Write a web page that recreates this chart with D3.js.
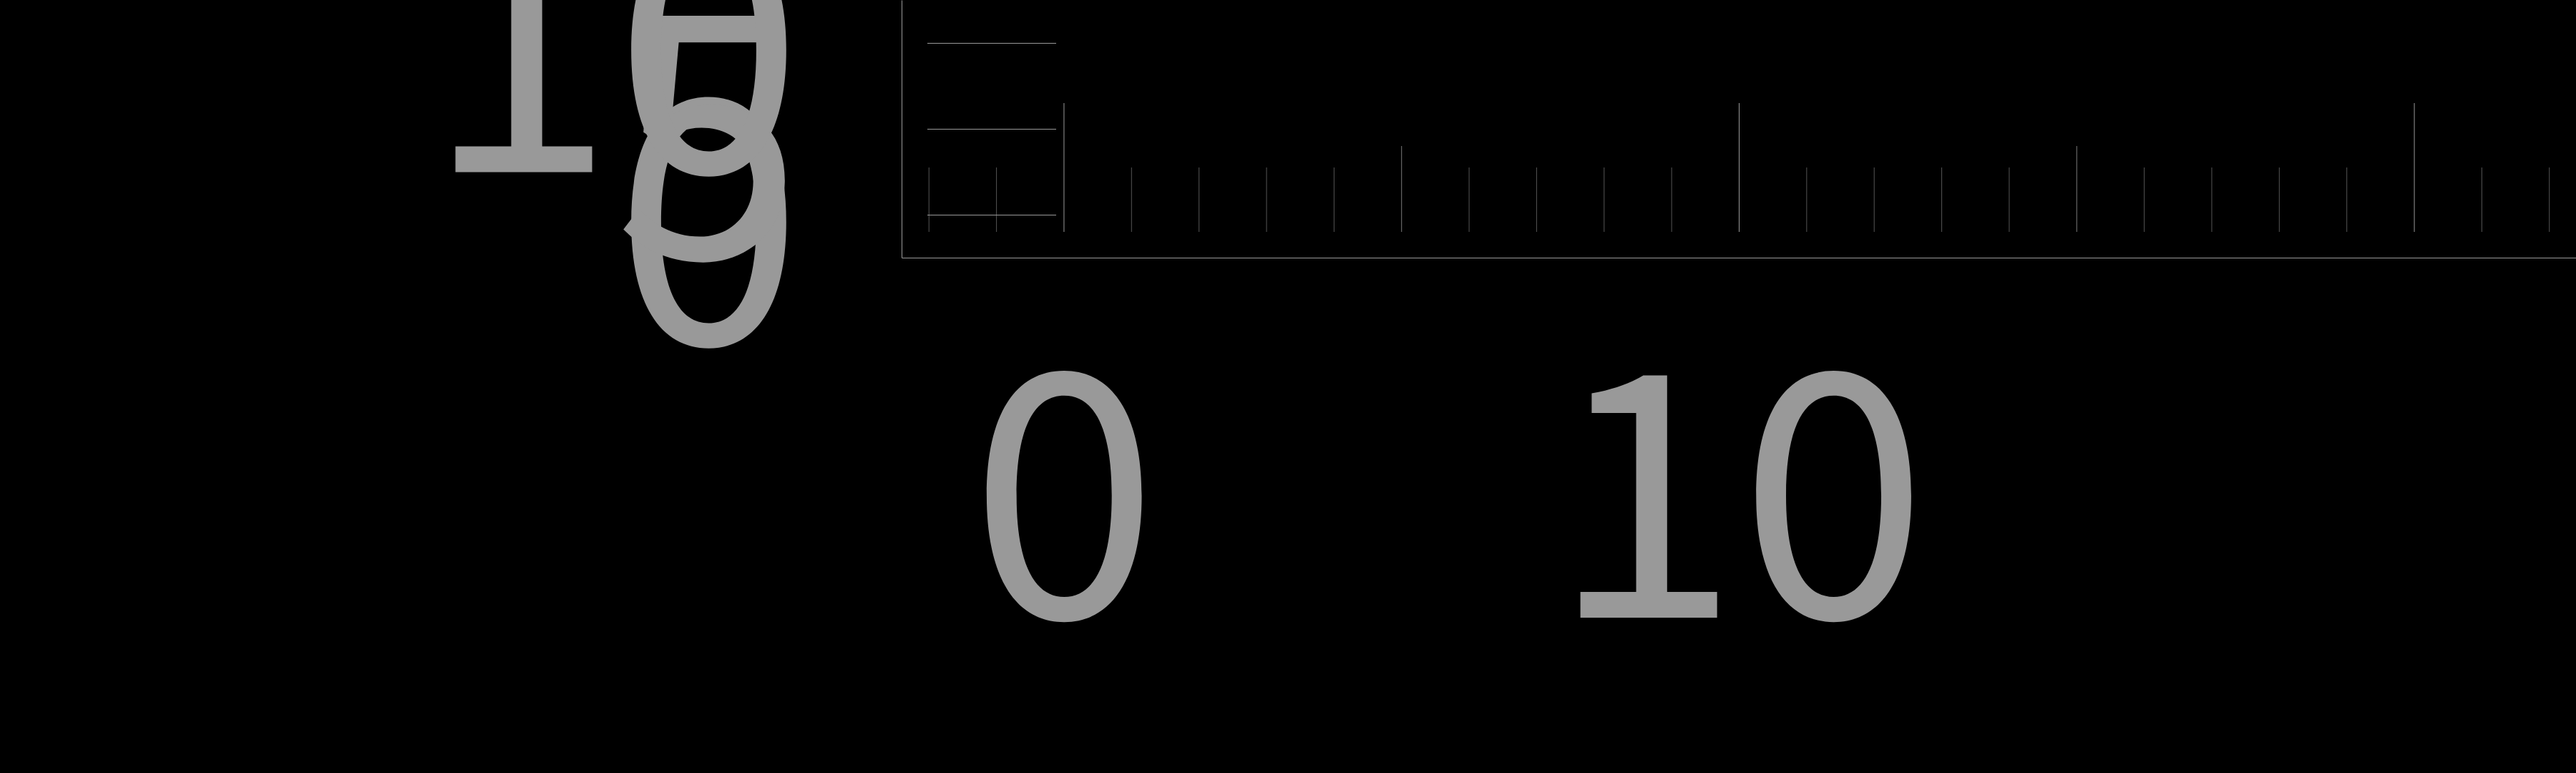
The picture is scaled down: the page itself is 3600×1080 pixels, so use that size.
<!DOCTYPE html>
<html>
<head>
<meta charset="utf-8">
<script src="https://cdn.jsdelivr.net/npm/d3@7"></script>
<style>
  html, body { margin: 0; padding: 0; background: #000; }
  svg { display: block; }
</style>
</head>
<body>
<div id="chart"></div>
<script>
// chart values
var xDomain = [-2.4, 22.4];
var yDomain = [-2.5, 12.5];
var xMinorTicks = [-2, -1, 1, 2, 3, 4, 6, 7, 8, 9, 11, 12, 13, 14, 16, 17, 18, 19, 21, 22];
var xMidTicks = [5, 15];
var xMajorTicks = [0, 10, 20];
var xLabels = [0, 10];
var yTicks = [0, 5, 10];
var yLabels = [0, 5, 10];

// svg size
var svgWidth = 3600;
var svgHeight = 1080;

var plot = { left: 1260, top: 0, right: 3600, bottom: 360 };
var plotH = plot.bottom - plot.top;
var labelFont = '"Noto Sans CJK JP", "Noto Sans CJK SC", sans-serif';
var labelSize = 475;

var svg = d3.select('#chart')
  .append('svg')
  .attr('width', svgWidth)
  .attr('height', svgHeight);

var x = d3.scaleLinear().domain(xDomain).range([plot.left, plot.right]);
var y = d3.scaleLinear().domain(yDomain).range([plot.bottom, plot.top]);

// ticks sit a little inside the frame, like a ruler
var tickGap = plotH * 0.1;

function tickRow(values, len, color) {
  var g = svg.append('g')
    .attr('transform', `translate(0, ${plot.bottom - tickGap})`)
    .call(d3.axisTop(x).tickValues(values).tickSize(len).tickFormat(''));
  g.select('.domain').remove();
  g.selectAll('line').attr('stroke', color).attr('stroke-width', 1);
}

tickRow(xMinorTicks, plotH * 0.25, '#555');
tickRow(xMidTicks, plotH / 3, '#7a7a7a');
tickRow(xMajorTicks, plotH * 0.5, '#999');

// y ticks
var yTickG = svg.append('g')
  .attr('transform', `translate(${plot.left + tickGap}, 0)`)
  .call(d3.axisRight(y).tickValues(yTicks).tickSize(plotH * 0.5).tickFormat(''));
yTickG.select('.domain').remove();
yTickG.selectAll('line').attr('stroke', '#999');

// x axis line + labels
var xAxis = svg.append('g')
  .attr('transform', `translate(0, ${plot.bottom})`)
  .call(d3.axisBottom(x).tickValues(xLabels).tickSize(0).tickSizeOuter(0));
xAxis.select('.domain').attr('stroke', '#999');
xAxis.selectAll('text')
  .attr('font-size', labelSize)
  .attr('font-family', labelFont)
  .attr('fill', '#999')
  .attr('y', 503)
  .attr('dy', 0);

// y axis line + labels
var yAxis = svg.append('g')
  .attr('transform', `translate(${plot.left}, 0)`)
  .call(d3.axisLeft(y).tickValues(yLabels).tickSize(0).tickSizeOuter(0));
yAxis.select('.domain').attr('stroke', '#999');
yAxis.selectAll('text')
  .attr('font-size', labelSize)
  .attr('font-family', labelFont)
  .attr('fill', '#999')
  .attr('x', -138)
  .attr('dy', 180);
</script>
</body>
</html>
